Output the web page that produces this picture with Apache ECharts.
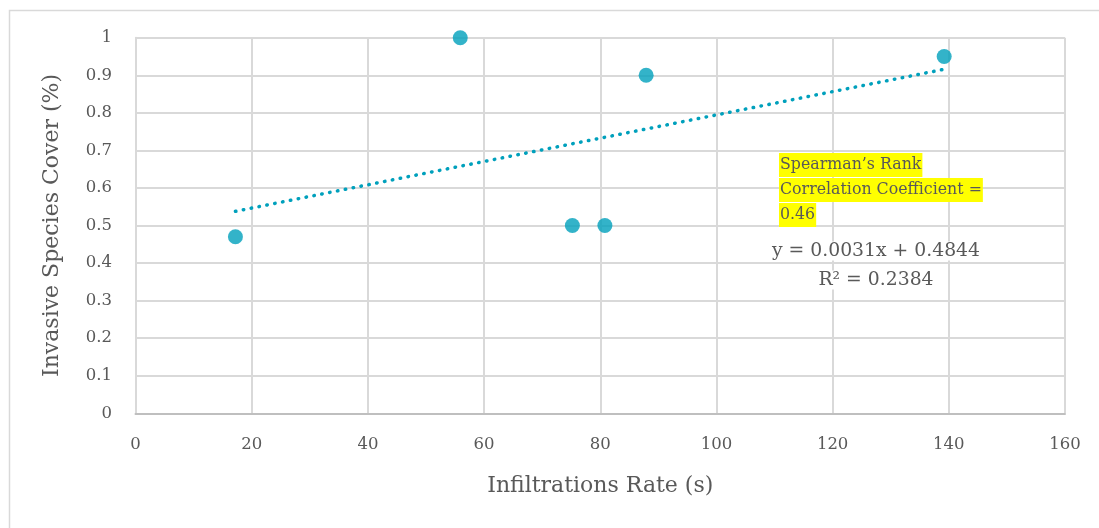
<!DOCTYPE html>
<html><head><meta charset="utf-8">
<script src="https://cdn.jsdelivr.net/npm/echarts@6/dist/echarts.min.js"></script>
<style>html,body{margin:0;padding:0;background:#fff}#c{width:1099px;height:528px}</style>
</head><body><div id="c"></div>
<script>
const xValues = [17.2, 55.9, 75.2, 80.8, 87.9, 139.2];
const yValues = [0.47, 1.0, 0.5, 0.5, 0.9, 0.95];
const trendSlope = 0.0031;
const trendIntercept = 0.4844;
const trendRange = [17.2, 139.2];
const xTitle = 'Infiltrations Rate (s)';
const yTitle = 'Invasive Species Cover (%)';
const noteLines = ['Spearman\u2019s Rank', 'Correlation Coefficient =', '0.46'];
const eqLines = ['y = 0.0031x + 0.4844', 'R\u00b2 = 0.2384'];

const FONT = '"DejaVu Serif", "Liberation Serif", serif';
const TXT = '#595959';
const TEAL = '#00A0BC';

const points = xValues.map((x, i) => [x, yValues[i]]);
const trend = trendRange.map(x => [x, trendSlope * x + trendIntercept]);

const chart = echarts.init(document.getElementById('c'), null, {renderer: 'canvas'});
chart.setOption({
  animation: false,
  backgroundColor: '#fff',
  grid: {left: 135.5, right: 34, top: 37.7, bottom: 114.7, containLabel: false},
  xAxis: {
    type: 'value', min: 0, max: 160, interval: 20,
    name: xTitle, nameLocation: 'middle', nameGap: 62,
    nameTextStyle: {fontFamily: FONT, fontSize: 22, color: TXT},
    axisLine: {show: true, lineStyle: {color: '#bfbfbf', width: 2}},
    axisTick: {show: false},
    axisLabel: {fontFamily: FONT, fontSize: 16.5, color: TXT, margin: 23},
    splitLine: {show: true, lineStyle: {color: '#d9d9d9', width: 2}}
  },
  yAxis: {
    type: 'value', min: 0, max: 1, interval: 0.1,
    name: yTitle, nameLocation: 'middle', nameGap: 72,
    nameTextStyle: {fontFamily: FONT, fontSize: 22, color: TXT},
    axisLine: {show: true, lineStyle: {color: '#d9d9d9', width: 2}},
    axisTick: {show: false},
    axisLabel: {fontFamily: FONT, fontSize: 16.5, color: TXT, margin: 23.5,
      formatter: v => String(Math.round(v * 10) / 10)},
    splitLine: {show: true, lineStyle: {color: '#d9d9d9', width: 2}}
  },
  series: [
    {
      type: 'line', data: trend, showSymbol: false, symbol: 'none',
      lineStyle: {color: TEAL, width: 3.5, type: [0.5, 7.5], cap: 'round'},
      z: 2, silent: true
    },
    {
      type: 'scatter', data: points, symbol: 'circle', symbolSize: 15,
      itemStyle: {color: TEAL}, z: 3
    }
  ],
  graphic: [
    {type: 'rect', left: 7, top: 8, shape: {width: 1200, height: 700},
      style: {fill: 'none', stroke: '#d9d9d9', lineWidth: 1.5}, silent: true, z: -10},
    ...noteLines.map((t, i) => ({
      type: 'text', left: 779, top: 153 + i * 25,
      style: {text: t, fontFamily: FONT, fontSize: 15.8, lineHeight: 20, fill: TXT,
        backgroundColor: '#FFFF00', padding: [2, 1, 2, 1]}, z: 10
    })),
    {type: 'text', x: 876, y: 251, style: {text: eqLines[0], fontFamily: FONT, fontSize: 18.8, fill: TXT,
      align: 'center', verticalAlign: 'middle', backgroundColor: '#fff'}, z: 10},
    {type: 'text', x: 876, y: 280, style: {text: eqLines[1], fontFamily: FONT, fontSize: 18.8, fill: TXT,
      align: 'center', verticalAlign: 'middle', backgroundColor: '#fff'}, z: 10}
  ]
});
</script></body></html>
